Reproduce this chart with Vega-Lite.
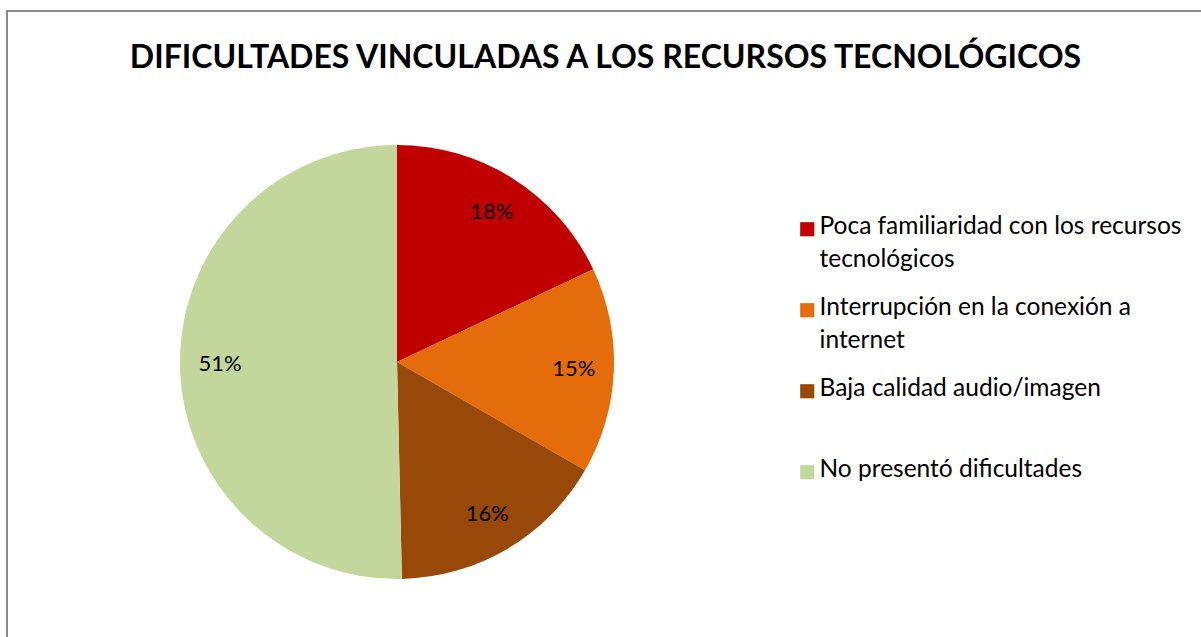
{
  "$schema": "https://vega.github.io/schema/vega-lite/v6.json",
  "width": 1201,
  "height": 637,
  "autosize": {"type": "fit", "contains": "padding"},
  "padding": {"left": 7, "top": 11, "right": -3, "bottom": -3},
  "background": "white",
  "view": {"stroke": "#8c8c8c", "strokeWidth": 2, "fill": "white"},
  "config": {
    "view": {"stroke": "#8c8c8c", "strokeWidth": 2},
    "font": "Lato",
    "style": {"guide-label": {"lineHeight": 33}}
  },
  "title": {
    "text": "DIFICULTADES VINCULADAS A LOS RECURSOS TECNOLÓGICOS",
    "font": "Lato",
    "fontSize": 32,
    "fontWeight": "bold",
    "color": "#000000",
    "anchor": "middle",
    "baseline": "alphabetic",
    "offset": -89
  },
  "data": {
    "values": [
      {"categoria": "Poca familiaridad con los recursos tecnológicos", "valor": 17.97, "orden": 1, "etiqueta": "18%"},
      {"categoria": "Interrupción en la conexión a internet", "valor": 15.35, "orden": 2, "etiqueta": "15%"},
      {"categoria": "Baja calidad audio/imagen", "valor": 16.32, "orden": 3, "etiqueta": "16%"},
      {"categoria": "No presentó dificultades", "valor": 50.36, "orden": 4, "etiqueta": "51%"}
    ]
  },
  "encoding": {
    "theta": {"field": "valor", "type": "quantitative", "stack": true},
    "order": {"field": "orden", "type": "quantitative"},
    "color": {
      "field": "categoria",
      "type": "nominal",
      "scale": {
        "domain": ["Poca familiaridad con los recursos tecnológicos", "Interrupción en la conexión a internet", "Baja calidad audio/imagen", "No presentó dificultades"],
        "range": ["#C00000", "#E46C0A", "#984807", "#C3D69B"]
      },
      "legend": {
        "title": null,
        "orient": "none",
        "legendX": 788,
        "legendY": 206,
        "columns": 1,
        "gridAlign": "all",
        "symbolType": "square",
        "symbolSize": 200,
        "symbolStrokeWidth": 0,
        "labelFont": "Lato",
        "labelFontSize": 24.5,
        "labelColor": "#000000",
        "labelLimit": 420,
        "labelBaseline": "top",
        "labelOffset": 0,
        "rowPadding": 23,
        "labelExpr": "datum.label == 'Poca familiaridad con los recursos tecnológicos' ? ['Poca familiaridad con los recursos', 'tecnológicos'] : datum.label == 'Interrupción en la conexión a internet' ? ['Interrupción en la conexión a', 'internet'] : datum.label",
        "encode": {"labels": {"update": {"dy": {"value": -14}}}}
      }
    }
  },
  "layer": [
    {
      "mark": {"type": "arc", "outerRadius": 217, "x": 390, "y": 351}
    },
    {
      "mark": {"type": "text", "radius": 177, "x": 390, "y": 351, "fontSize": 22, "font": "Lato", "color": "#000000"},
      "encoding": {
        "text": {"field": "etiqueta", "type": "nominal"},
        "color": {"value": "#000000"}
      }
    }
  ]
}
